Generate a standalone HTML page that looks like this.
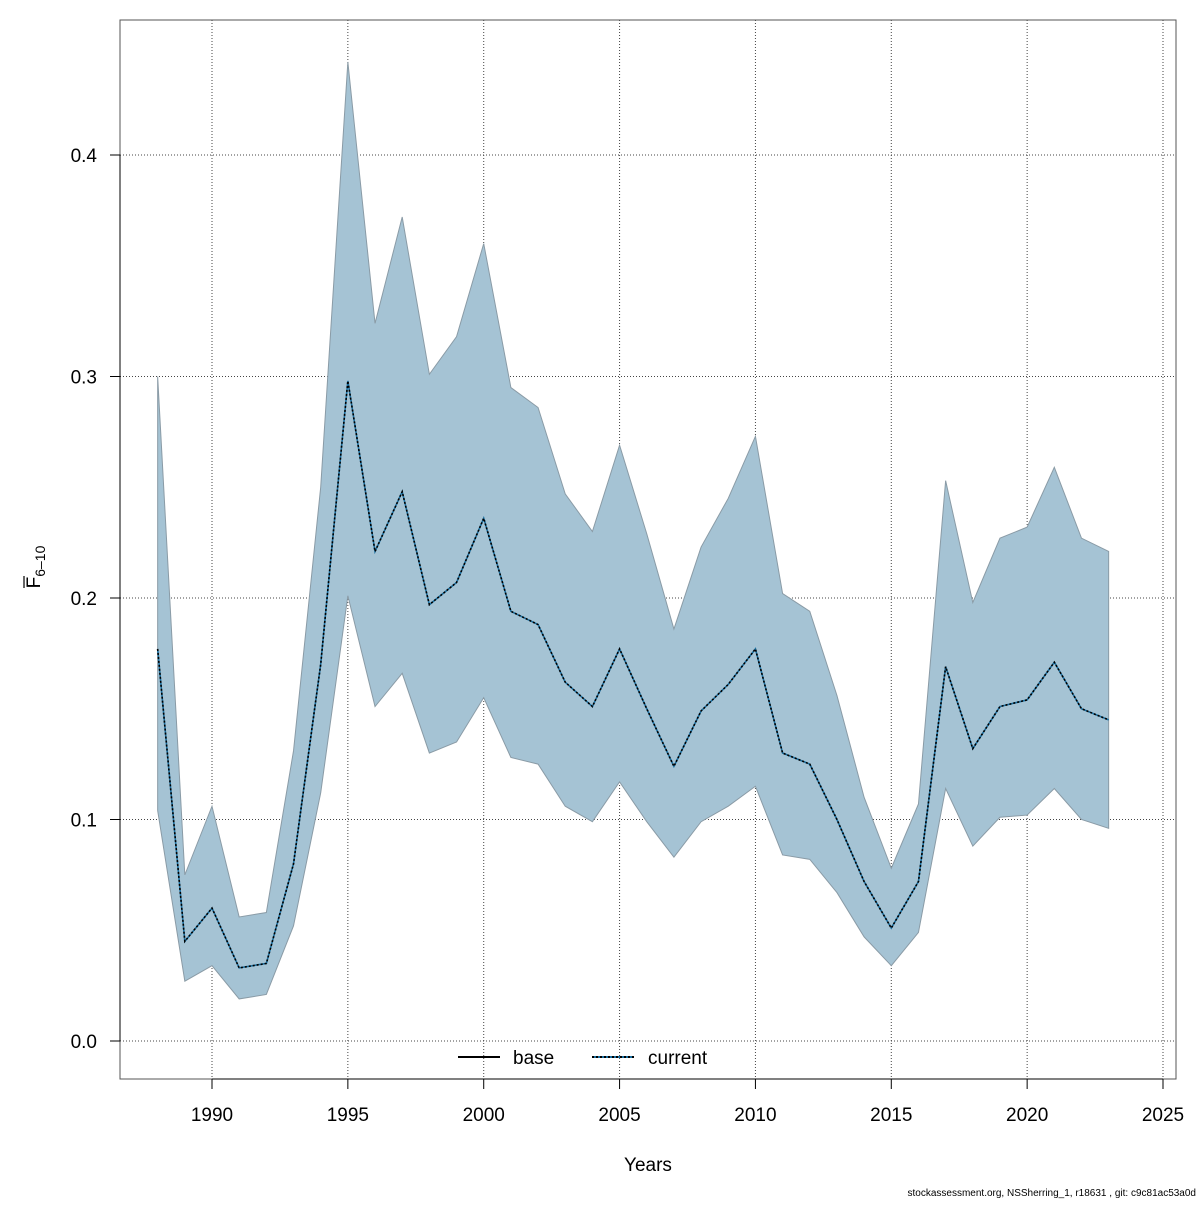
<!DOCTYPE html>
<html><head><meta charset="utf-8"><style>
body{margin:0;background:#fff;}
svg text{font-family:"Liberation Sans",Arial,sans-serif;}
</style></head><body>
<svg id="chart" width="1200" height="1200" viewBox="0 0 1200 1200">
<rect x="0" y="0" width="1200" height="1200" fill="#fff"/>
<g id="grid"></g>
<g id="band"></g>
<g id="lines"></g>
<rect x="120" y="20" width="1056" height="1059" fill="none" stroke="#555" stroke-width="1"/>
<g id="axes"></g>
<g>
<line x1="458" y1="1057" x2="500" y2="1057" stroke="#000" stroke-width="2"/>
<text x="513" y="1064" font-size="19">base</text>
<line x1="592" y1="1057" x2="634" y2="1057" stroke="#1a6fa0" stroke-width="2"/>
<line x1="592" y1="1057" x2="634" y2="1057" stroke="#000" stroke-width="2" stroke-dasharray="2,2"/>
<text x="648" y="1064" font-size="19">current</text>
</g>
<text x="648" y="1171" font-size="19" text-anchor="middle">Years</text>
<g transform="translate(40,567) rotate(-90)">
<text x="0" y="0" font-size="19" text-anchor="middle"><tspan>F</tspan><tspan font-size="14" dy="5">6–10</tspan></text>
<line x1="-21" y1="-16" x2="-9" y2="-16" stroke="#000" stroke-width="1.2"/>
</g>
<text x="1196" y="1196" font-size="10" text-anchor="end">stockassessment.org, NSSherring_1, r18631 , git: c9c81ac53a0d</text>
</svg>
<script>
const years=[1988,1989,1990,1991,1992,1993,1994,1995,1996,1997,1998,1999,2000,2001,2002,2003,2004,2005,2006,2007,2008,2009,2010,2011,2012,2013,2014,2015,2016,2017,2018,2019,2020,2021,2022,2023];
const meanF=[0.177,0.045,0.060,0.033,0.035,0.080,0.170,0.298,0.221,0.248,0.197,0.207,0.236,0.194,0.188,0.162,0.151,0.177,0.150,0.124,0.149,0.161,0.177,0.130,0.125,0.100,0.072,0.051,0.072,0.169,0.132,0.151,0.154,0.171,0.150,0.145];
const upperF=[0.300,0.075,0.106,0.056,0.058,0.131,0.250,0.442,0.324,0.372,0.301,0.318,0.360,0.295,0.286,0.247,0.230,0.269,0.229,0.186,0.223,0.245,0.273,0.202,0.194,0.156,0.110,0.078,0.107,0.253,0.198,0.227,0.232,0.259,0.227,0.221];
const lowerF=[0.104,0.027,0.034,0.019,0.021,0.052,0.112,0.201,0.151,0.166,0.130,0.135,0.155,0.128,0.125,0.106,0.099,0.117,0.099,0.083,0.099,0.106,0.115,0.084,0.082,0.067,0.047,0.034,0.049,0.114,0.088,0.101,0.102,0.114,0.100,0.096];
const xTicks=[1990,1995,2000,2005,2010,2015,2020,2025];
const yTicks=[0.0,0.1,0.2,0.3,0.4];
const yTickLabels=["0.0","0.1","0.2","0.3","0.4"];

const NS="http://www.w3.org/2000/svg";
const xs=y=>212+(y-1990)*(1163-212)/35;
const ys=v=>1041-v*2215;
function mk(tag,attrs,parent){const e=document.createElementNS(NS,tag);for(const k in attrs)e.setAttribute(k,attrs[k]);document.getElementById(parent).appendChild(e);return e;}

xTicks.forEach(t=>{
  const g=mk('line',{x1:xs(t),x2:xs(t),y1:20,y2:1079,stroke:'#444','stroke-width':1,'stroke-dasharray':'1,2'},'grid');
  
  
  const tk=mk('line',{x1:xs(t),x2:xs(t),y1:1079,y2:1089,stroke:'#000'},'axes');
  
  
  const tx=mk('text',{x:xs(t),y:1121,'font-size':19,'text-anchor':'middle'},'axes');
  tx.textContent=t;
  
  
});
mk('line',{x1:xs(1990),x2:xs(2025),y1:1079,y2:1079,stroke:'#000'},'axes');
yTicks.forEach((t,i)=>{
  const g=mk('line',{x1:120,x2:1176,y1:ys(t),y2:ys(t),stroke:'#444','stroke-width':1,'stroke-dasharray':'1,2'},'grid');
  
  
  const tk=mk('line',{x1:110,x2:120,y1:ys(t),y2:ys(t),stroke:'#000'},'axes');
  
  
  const tx=mk('text',{x:97,y:ys(t)+7,'font-size':19,'text-anchor':'end'},'axes');
  tx.textContent=yTickLabels[i];
  
  
});
mk('line',{x1:120,x2:120,y1:ys(0),y2:ys(0.4),stroke:'#000'},'axes');

let pts=years.map((y,i)=>xs(y)+','+ys(upperF[i]));
for(let i=years.length-1;i>=0;i--)pts.push(xs(years[i])+','+ys(lowerF[i]));
const band=mk('polygon',{points:pts.join(' '),fill:'#a5c3d4',stroke:'#8a9ba6','stroke-width':1},'band');



const lp=years.map((y,i)=>xs(y)+','+ys(meanF[i])).join(' ');
const l1=mk('polyline',{points:lp,fill:'none',stroke:'#1a6fa0','stroke-width':1.6},'lines');


const l2=mk('polyline',{points:lp,fill:'none',stroke:'#000','stroke-width':1.6,'stroke-dasharray':'2,2'},'lines');


</script>
</body></html>
